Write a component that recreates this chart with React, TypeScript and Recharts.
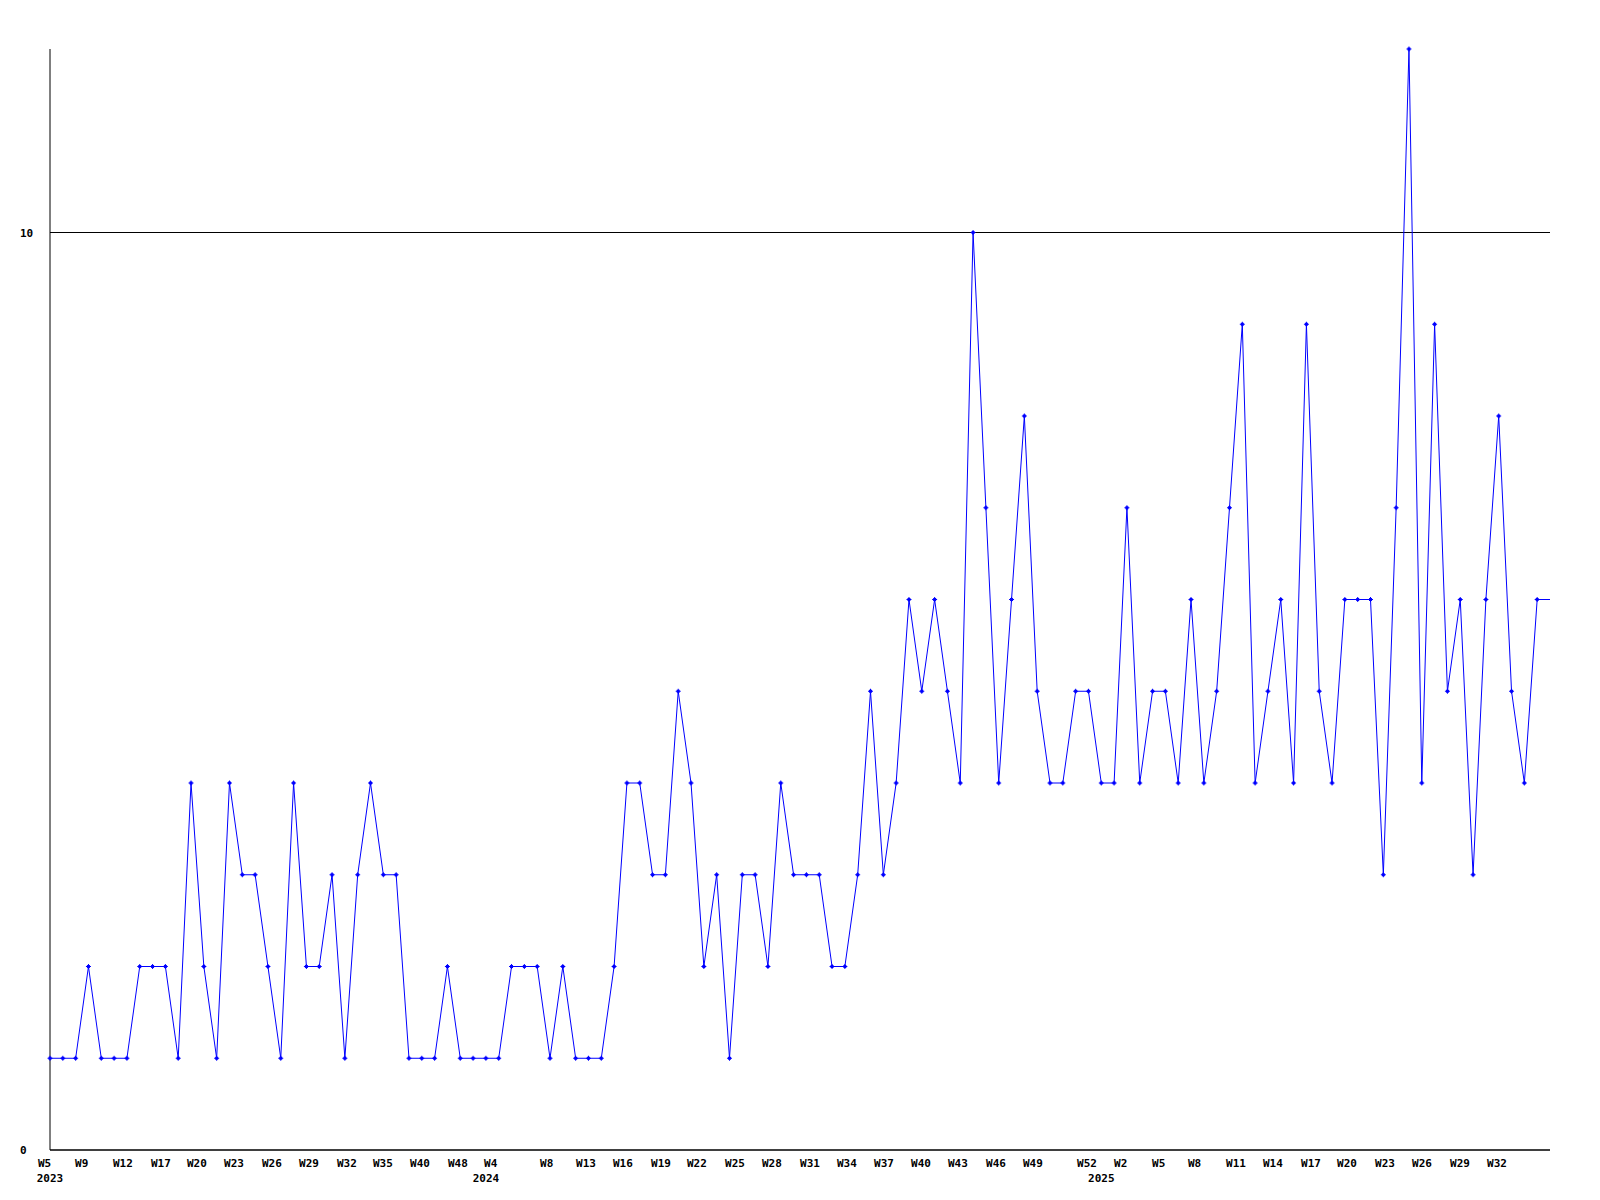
import { CartesianGrid, Line, LineChart, XAxis, YAxis } from "recharts";

// weekly counts, one per plotted week (last one runs into the right edge)
const counts = [
  1, 1, 1, 2, 1, 1, 1, 2, 2, 2, 1, 4, 2, 1, 4, 3, 3, 2, 1, 4, 2, 2, 3, 1, 3, 4, 3, 3, 1, 1, 1,
  2, 1, 1, 1, 1, 2, 2, 2, 1, 2, 1, 1, 1, 2, 4, 4, 3, 3, 5, 4, 2, 3, 1, 3, 3, 2, 4, 3, 3, 3, 2, 2, 3,
  5, 3, 4, 6, 5, 6, 5, 4, 10, 7, 4, 6, 8, 5, 4, 4, 5, 5, 4, 4, 7, 4, 5, 5, 4, 6, 4,
  5, 7, 9, 4, 5, 6, 4, 9, 5, 4, 6, 6, 6, 3, 7, 12, 4, 9, 5, 6, 3, 6, 8, 5, 4, 6, 6,
];

const weekTickPos = [
  0, 2.89, 5.85, 8.81, 11.62, 14.51, 17.47, 20.36, 23.32, 26.13, 29.02, 31.98, 34.79,
  39.16, 41.97, 44.85, 47.82, 50.62, 53.59, 56.47, 59.44, 62.32, 65.21, 68.1, 70.98, 73.95, 76.83,
  81.05, 83.93, 86.9, 89.7, 92.67, 95.55, 98.52, 101.33, 104.29, 107.18, 110.14, 113.03,
];
const weekTickLabels = [
  "W5", "W9", "W12", "W17", "W20", "W23", "W26", "W29", "W32", "W35", "W40", "W48", "W4",
  "W8", "W13", "W16", "W19", "W22", "W25", "W28", "W31", "W34", "W37", "W40", "W43", "W46", "W49",
  "W52", "W2", "W5", "W8", "W11", "W14", "W17", "W20", "W23", "W26", "W29", "W32",
];

const yearTickPos = [0, 34, 82];
const yearTickLabels = ["2023", "2024", "2025"];

const yTicks = [0, 10];

const data = counts.map((v, i) => ({ i, v }));
const lastIndex = counts.length - 1;

const FONT = "'DejaVu Sans Mono', monospace";

function WeekTick({ x, y, payload }: any) {
  const k = weekTickPos.indexOf(payload.value);
  return (
    <text x={x - 12} y={y} dy={8.5} textAnchor="start" fontFamily={FONT} fontSize={11} fontWeight="bold" fill="#000">
      {weekTickLabels[k] ?? ""}
    </text>
  );
}

function YearTick({ x, y, payload }: any) {
  const k = yearTickPos.indexOf(payload.value);
  return (
    <text x={x} y={y} dy={8} textAnchor="middle" fontFamily={FONT} fontSize={11} fontWeight="bold" fill="#000">
      {yearTickLabels[k] ?? ""}
    </text>
  );
}

function CountTick({ y, payload }: any) {
  return (
    <text x={20} y={y} dy={4} textAnchor="start" fontFamily={FONT} fontSize={11} fontWeight="bold" fill="#000">
      {payload.value}
    </text>
  );
}

function Marker({ cx, cy, index }: any) {
  if (index === lastIndex || cx == null || cy == null) return <g key={`m${index}`} />;
  return (
    <g key={`m${index}`}>
      <rect x={cx - 1.5} y={cy - 1.5} width={3} height={3} fill="#0000ff" />
      <path d={`M${cx - 2.5},${cy} H${cx + 2.5} M${cx},${cy - 2.5} V${cy + 2.5}`} stroke="#0000ff" strokeWidth={1} />
    </g>
  );
}

export default function App() {
  return (
    <div style={{ position: "absolute", left: 0, top: 0, width: 1600, height: 1200, background: "#fff" }}>
      <LineChart width={1600} height={1200} data={data} margin={{ top: 49, right: 50, bottom: 18, left: 0 }}>
        <CartesianGrid vertical={false} horizontalValues={yTicks} stroke="#000" strokeWidth={1} />
        <XAxis
          dataKey="i"
          type="number"
          domain={[0, lastIndex]}
          ticks={weekTickPos}
          interval={0}
          tick={<WeekTick />}
          tickLine={false}
          axisLine={{ stroke: "#000" }}
          height={16}
        />
        <XAxis
          xAxisId="year"
          dataKey="i"
          type="number"
          domain={[0, lastIndex]}
          allowDataOverflow
          ticks={yearTickPos}
          interval={0}
          tick={<YearTick />}
          tickLine={false}
          axisLine={false}
          height={16}
        />
        <YAxis
          domain={[0, 12]}
          ticks={yTicks}
          interval={0}
          tick={<CountTick />}
          tickLine={false}
          axisLine={{ stroke: "#000" }}
          width={50}
        />
        <Line
          type="linear"
          dataKey="v"
          stroke="#0000ff"
          strokeWidth={1}
          dot={<Marker />}
          activeDot={false}
          isAnimationActive={false}
        />
      </LineChart>
    </div>
  );
}
